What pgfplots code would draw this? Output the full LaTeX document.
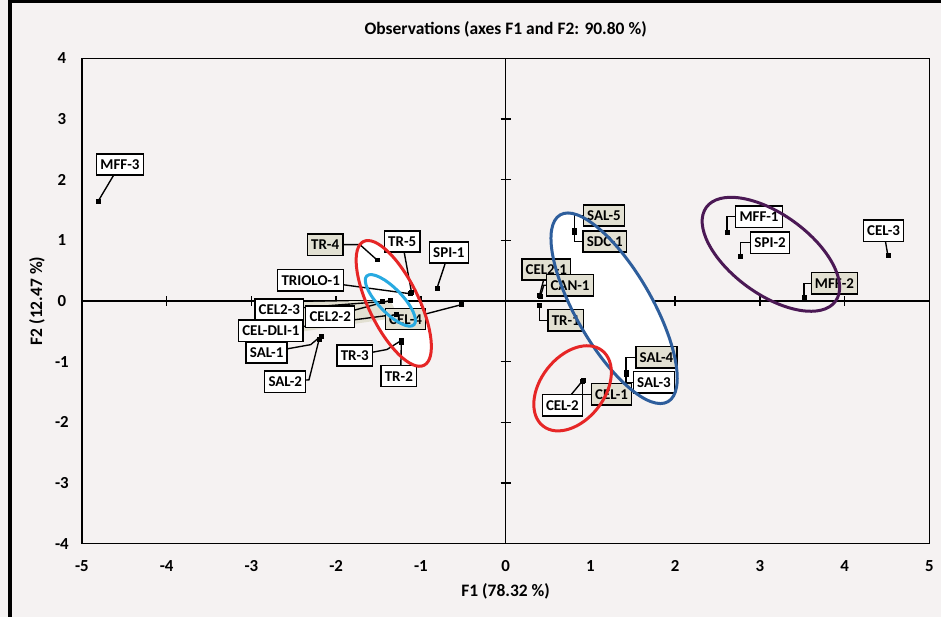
\documentclass[border=0pt]{standalone}
\usepackage{fontspec}
\setmainfont{Carlito}
\usepackage{pgfplots}
\pgfplotsset{compat=1.18}
\definecolor{bg}{RGB}{245,242,242}
\definecolor{beige}{RGB}{226,224,210}
\definecolor{ered}{RGB}{230,38,38}
\definecolor{eblue}{RGB}{46,94,156}
\definecolor{ecyan}{RGB}{40,170,225}
\definecolor{epurple}{RGB}{75,25,85}
\pgfplotstableread{
x y
-4.81 1.64
-1.52 0.68
-1.11 0.14
-1.13 0.12
-0.81 0.21
-1.46 -0.01
-1.36 0.01
-1.29 -0.22
-0.52 -0.06
-2.18 -0.58
-2.20 -0.63
-1.23 -0.65
-1.23 -0.68
0.81 1.16
0.81 1.13
0.40 0.09
0.41 0.07
0.40 -0.07
1.42 -1.18
1.42 -1.21
0.91 -1.31
0.90 -1.33
2.61 1.13
2.77 0.73
3.52 0.06
4.51 0.75
}\obs
\begin{document}
\begin{tikzpicture}[
  lb/.style={draw=black, line width=1.1pt, fill=white, font=\fontsize{12}{14}\selectfont\bfseries, inner xsep=3pt, inner ysep=0pt, minimum height=17pt},
  lbb/.style={lb, fill=beige},
  ld/.style={line width=1.1pt, black}]
\fill[bg] (-65.6pt,-58.8pt) rectangle (688.8pt,435.6pt);
\draw[line width=2.6pt] (-57.6pt,-58.8pt) -- (-57.6pt,434.3pt) -- (688.8pt,434.3pt);
\begin{axis}[
  scale only axis, width=679.2pt, height=388.8pt,
  xmin=-5, xmax=5, ymin=-4, ymax=4,
  xtick={-5,...,5}, ytick={-4,...,4},
  major tick length=0pt,
  axis line style={line width=1.3pt},
  axis background/.style={fill=bg},
  ticklabel style={font=\fontsize{13.5}{14}\selectfont\bfseries},
  /pgf/number format/assume math mode=true,
  xticklabel style={anchor=center, yshift=-18pt},
  yticklabel style={anchor=center, xshift=-16pt},
  clip=false,
]
% ellipse fills
\fill[white] (axis cs:-1.32,-0.04) ellipse [x radius=55.2pt, y radius=20pt, rotate=-64];
% zero lines and ticks
\draw[line width=1.3pt] (axis cs:-5,0) -- (axis cs:5,0);
\draw[line width=1.3pt] (axis cs:0,-4) -- (axis cs:0,4);
\draw[line width=1.1pt]
  (axis cs:-4,-0.082) -- (axis cs:-4,0.082)
  (axis cs:-3,-0.082) -- (axis cs:-3,0.082)
  (axis cs:-2,-0.082) -- (axis cs:-2,0.082)
  (axis cs:-1,-0.082) -- (axis cs:-1,0.082)
  (axis cs:1,-0.082) -- (axis cs:1,0.082)
  (axis cs:2,-0.082) -- (axis cs:2,0.082)
  (axis cs:3,-0.082) -- (axis cs:3,0.082)
  (axis cs:4,-0.082) -- (axis cs:4,0.082)
  (axis cs:-0.059,-3) -- (axis cs:0.059,-3)
  (axis cs:-0.059,-2) -- (axis cs:0.059,-2)
  (axis cs:-0.059,-1) -- (axis cs:0.059,-1)
  (axis cs:-0.059,1) -- (axis cs:0.059,1)
  (axis cs:-0.059,2) -- (axis cs:0.059,2)
  (axis cs:-0.059,3) -- (axis cs:0.059,3);
\fill[white] (axis cs:1.28,-0.12) ellipse [x radius=86.4pt, y radius=30.4pt, rotate=-60];
\fill[white] (axis cs:-1.36,0.01) ellipse [x radius=27.2pt, y radius=9.6pt, rotate=-46];
% beige callout region
\fill[beige] (axis cs:-2.38,-0.02) -- (axis cs:-1.36,0.01) -- (axis cs:-1.26,-0.27) -- (axis cs:-2.38,-0.50) -- cycle;
% leader lines
\draw[ld] (axis cs:-4.81,1.64) -- (axis cs:-4.55,2.25);
\draw[ld] (axis cs:-1.52,0.68) -- (axis cs:-1.72,0.93) -- (axis cs:-2.13,0.93);
\draw[ld] (axis cs:-1.11,0.14) -- (axis cs:-1.22,0.98);
\draw[ld] (axis cs:-0.81,0.21) -- (axis cs:-0.67,0.80);
\draw[ld] (axis cs:-1.13,0.12) -- (axis cs:-2.30,0.34);
\draw[ld] (axis cs:-1.46,-0.01) -- (axis cs:-2.67,-0.14);
\draw[ld] (axis cs:-1.36,0.01) -- (axis cs:-2.07,-0.26);
\draw[ld] (axis cs:-1.29,-0.22) -- (axis cs:-2.77,-0.49);
\draw[ld] (axis cs:-0.52,-0.06) -- (axis cs:-1.18,-0.30);
\draw[ld] (axis cs:-2.18,-0.58) -- (axis cs:-2.30,-0.72) -- (axis cs:-2.82,-0.85);
\draw[ld] (axis cs:-2.20,-0.63) -- (axis cs:-2.32,-1.30) -- (axis cs:-2.60,-1.33);
\draw[ld] (axis cs:-1.23,-0.65) -- (axis cs:-1.40,-0.80) -- (axis cs:-1.78,-0.90);
\draw[ld] (axis cs:-1.23,-0.68) -- (axis cs:-1.24,-1.24);
\draw[ld] (axis cs:0.81,1.16) |- (axis cs:1.16,1.41);
\draw[ld] (axis cs:0.81,1.13) |- (axis cs:1.17,0.98);
\draw[ld] (axis cs:0.40,0.09) -- (axis cs:0.48,0.52);
\draw[ld] (axis cs:0.41,0.07) -- (axis cs:0.45,0.26) -- (axis cs:0.76,0.26);
\draw[ld] (axis cs:0.40,-0.07) |- (axis cs:0.71,-0.32);
\draw[ld] (axis cs:1.42,-1.18) |- (axis cs:1.78,-0.93);
\draw[ld] (axis cs:1.42,-1.21) |- (axis cs:1.75,-1.34);
\draw[ld] (axis cs:0.91,-1.31) |- (axis cs:1.25,-1.54);
\draw[ld] (axis cs:0.90,-1.33) -- (axis cs:0.67,-1.72);
\draw[ld] (axis cs:2.61,1.13) |- (axis cs:2.99,1.39);
\draw[ld] (axis cs:2.77,0.73) |- (axis cs:3.12,0.96);
\draw[ld] (axis cs:3.52,0.06) |- (axis cs:3.88,0.29);
\draw[ld] (axis cs:4.51,0.75) -- (axis cs:4.46,1.16);
% points
\addplot[only marks, mark=square*, mark size=1.6pt, black] table {\obs};
% labels
\node[lb]  at (axis cs:-4.55,2.25) {MFF-3};
\node[lbb] at (axis cs:-2.13,0.93) {TR-4};
\node[lb]  at (axis cs:-1.22,0.98) {TR-5};
\node[lb]  at (axis cs:-0.67,0.80) {SPI-1};
\node[lb]  at (axis cs:-2.30,0.34) {TRIOLO-1};
\node[lb]  at (axis cs:-2.67,-0.14) {CEL2-3};
\node[lb]  at (axis cs:-2.07,-0.26) {CEL2-2};
\node[lb]  at (axis cs:-2.77,-0.49) {CEL-DLI-1};
\node[lbb] at (axis cs:-1.18,-0.30) {CEL-4};
\node[lb]  at (axis cs:-2.82,-0.85) {SAL-1};
\node[lb]  at (axis cs:-2.60,-1.33) {SAL-2};
\node[lb]  at (axis cs:-1.78,-0.90) {TR-3};
\node[lb]  at (axis cs:-1.26,-1.24) {TR-2};
\node[lbb] at (axis cs:1.16,1.41) {SAL-5};
\node[lbb] at (axis cs:1.17,0.98) {SDC-1};
\node[lbb] at (axis cs:0.48,0.52) {CEL2-1};
\node[lbb] at (axis cs:0.76,0.26) {CAN-1};
\node[lbb] at (axis cs:0.71,-0.32) {TR-1};
\node[lbb] at (axis cs:1.78,-0.93) {SAL-4};
\node[lb]  at (axis cs:1.75,-1.34) {SAL-3};
\node[lbb] at (axis cs:1.25,-1.54) {CEL-1};
\node[lb]  at (axis cs:0.67,-1.72) {CEL-2};
\node[lb]  at (axis cs:2.99,1.39) {MFF-1};
\node[lb]  at (axis cs:3.12,0.96) {SPI-2};
\node[lbb] at (axis cs:3.88,0.29) {MFF-2};
\node[lb]  at (axis cs:4.46,1.16) {CEL-3};
% ellipse outlines
\draw[ered, line width=2.4pt] (axis cs:-1.32,-0.04) ellipse [x radius=55.2pt, y radius=20pt, rotate=-64];
\draw[ecyan, line width=2.4pt] (axis cs:-1.36,0.01) ellipse [x radius=27.2pt, y radius=9.6pt, rotate=-46];
\draw[eblue, line width=2.4pt] (axis cs:1.28,-0.12) ellipse [x radius=86.4pt, y radius=30.4pt, rotate=-60];
\draw[ered, line width=2.4pt] (axis cs:0.79,-1.44) ellipse [x radius=38.4pt, y radius=25.6pt, rotate=52];
\draw[epurple, line width=2.4pt] (axis cs:3.13,0.77) ellipse [x radius=64pt, y radius=32pt, rotate=-36];
% titles
\node[font=\fontsize{14}{16}\selectfont\bfseries] at ([yshift=23.6pt]rel axis cs:0.5,1) {Observations (axes F1 and F2: 90.80 \%)};
\node[font=\fontsize{14}{16}\selectfont\bfseries] at ([yshift=-38pt]rel axis cs:0.5,0) {F1 (78.32 \%)};
\node[font=\fontsize{14}{16}\selectfont\bfseries, rotate=90] at ([xshift=-36pt]rel axis cs:0,0.5) {F2 (12.47 \%)};
\end{axis}
\end{tikzpicture}
\end{document}
